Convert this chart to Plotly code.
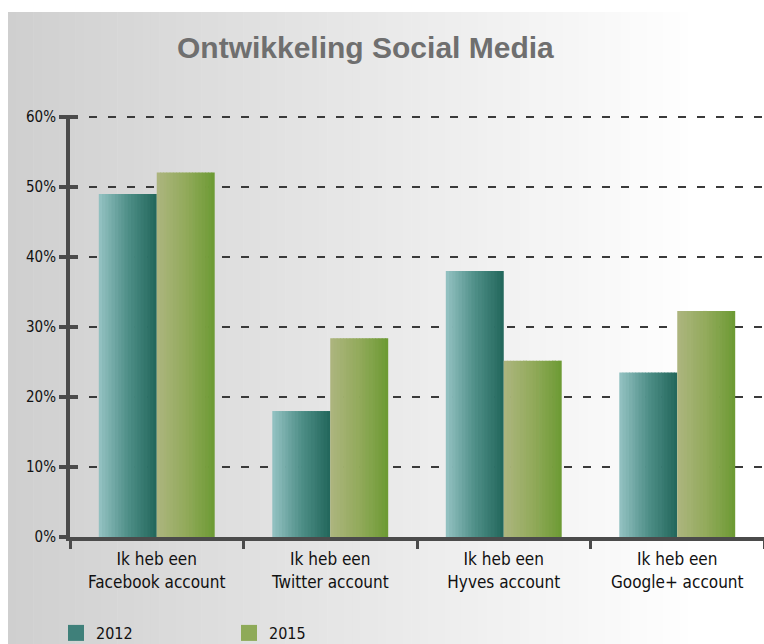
import plotly.graph_objects as go

# ---------------- data ----------------
categories = [
    "Ik heb een<br>Facebook account",
    "Ik heb een<br>Twitter account",
    "Ik heb een<br>Hyves account",
    "Ik heb een<br>Google+ account",
]
values_2012 = [49.0, 18.0, 38.0, 23.5]
values_2015 = [52.1, 28.4, 25.2, 32.3]
series_names = ["2012", "2015"]
y_ticks = [0, 10, 20, 30, 40, 50, 60]
y_tick_labels = ["0%", "10%", "20%", "30%", "40%", "50%", "60%"]
title_text = "Ontwikkeling Social Media"
page_heading = "Social Media"

# ---------------- geometry helpers ----------------
W, H = 764, 644
ML, MR, MT, MB = 70, 0, 115, 107
PW = W - ML - MR
PH = H - MT - MB
Y_MAX = 60.3


def px_x(px):
    return (px - ML) / PW


def px_y(py):
    return (H - MB - py) / PH


def hex2rgb(h):
    h = h.lstrip("#")
    return tuple(int(h[i:i + 2], 16) for i in (0, 2, 4))


def grad(stops, t):
    for (t0, c0), (t1, c1) in zip(stops[:-1], stops[1:]):
        if t0 <= t <= t1:
            f = (t - t0) / (t1 - t0) if t1 > t0 else 0
            a, b = hex2rgb(c0), hex2rgb(c1)
            return "rgb(%d,%d,%d)" % tuple(round(a[k] + (b[k] - a[k]) * f) for k in range(3))
    return stops[-1][1]


NARROW = "Liberation Sans Narrow, Arial Narrow, DejaVu Sans Condensed, sans-serif"
SANS = "Liberation Sans, Arial, sans-serif"

stops_2012 = [(0.0, "#95c3c3"), (0.5, "#4f8f88"), (1.0, "#21665a")]
stops_2015 = [(0.0, "#adb57f"), (0.5, "#92aa5b"), (1.0, "#6c9a33")]
legend_colors = ["#3f807a", "#8eaa58"]

fig = go.Figure()

# gradient bars built from thin overlaid strips
K = 18
BW = 0.334
for s, (vals, stops) in enumerate([(values_2012, stops_2012), (values_2015, stops_2015)]):
    for i in range(K):
        t = (i + 0.5) / K
        w = BW / K + (0.004 if i < K - 1 else 0)
        fig.add_trace(go.Bar(
            x=categories, y=vals,
            offset=-BW + s * BW + i * BW / K, width=w,
            marker=dict(color=grad(stops, t), line=dict(width=0)),
            showlegend=False, hoverinfo="skip",
        ))

# legend entries
for name, col in zip(series_names, legend_colors):
    fig.add_trace(go.Scatter(
        x=[None], y=[None], mode="markers", name=name,
        marker=dict(symbol="square", size=18, color=col),
    ))

# helper trace for the inner tick marks on the y axis
fig.add_trace(go.Scatter(x=[None], y=[None], yaxis="y2", showlegend=False, hoverinfo="skip"))

# background panel gradient
shapes = []
N = 90
x0p, x1p = 8, 764
for i in range(N):
    a = x0p + (x1p - x0p) * i / N
    b = x0p + (x1p - x0p) * (i + 1) / N + 0.6
    xc = (a + b) / 2
    f = min(1.0, (xc - 8) / 690)
    v = round(207 + (255 - 207) * f)
    shapes.append(dict(
        type="rect", xref="paper", yref="paper",
        x0=px_x(a), x1=px_x(b), y0=px_y(12), y1=px_y(H + 2),
        fillcolor="rgb(%d,%d,%d)" % (v, v, v), line=dict(width=0), layer="below",
    ))

AX = "#4b4b4b"

fig.update_layout(
    width=W, height=H,
    margin=dict(l=ML, r=MR, t=MT, b=MB, autoexpand=False),
    paper_bgcolor="white", plot_bgcolor="rgba(0,0,0,0)",
    barmode="overlay",
    shapes=shapes,
    showlegend=True,
    legend=dict(
        orientation="h", x=px_x(56), y=px_y(616), xanchor="left", yanchor="top",
        font=dict(family=NARROW, size=16, color="#111111"),
        bgcolor="rgba(0,0,0,0)", entrywidth=128, entrywidthmode="pixels",
        itemclick=False, itemdoubleclick=False,
    ),
    xaxis=dict(
        type="category", range=[-0.5, 3.5], showline=True, linecolor=AX, linewidth=4,
        ticks="outside", tickson="boundaries", ticklen=8, tickwidth=3, tickcolor=AX,
        tickfont=dict(family=NARROW, size=17, color="#111111"), ticklabelstandoff=4,
        showgrid=False, zeroline=False, fixedrange=True,
    ),
    yaxis=dict(
        range=[0, Y_MAX], tickvals=y_ticks, ticktext=y_tick_labels,
        showline=True, linecolor=AX, linewidth=4,
        ticks="outside", ticklen=7, tickwidth=3.5, tickcolor=AX,
        tickfont=dict(family=NARROW, size=15, color="#111111"),
        showgrid=True, gridcolor="#3a3a3a", gridwidth=2, griddash="8px,11px",
        zeroline=False, fixedrange=True,
    ),
    yaxis2=dict(
        overlaying="y", anchor="x", side="left", range=[0, Y_MAX], tickvals=y_ticks,
        ticks="inside", ticklen=8, tickwidth=3.5, tickcolor=AX,
        showticklabels=False, showgrid=False, showline=False, zeroline=False, fixedrange=True,
    ),
    annotations=[
        dict(text=title_text, xref="paper", yref="paper", x=px_x(365), y=px_y(48),
             xanchor="center", yanchor="middle", showarrow=False,
             font=dict(family=SANS, size=30, color="#6f6f6f", weight="bold")),
        dict(text=page_heading, xref="paper", yref="paper", x=px_x(27), y=px_y(7.5),
             xanchor="left", yanchor="bottom", showarrow=False,
             font=dict(family=SANS, size=26, color="#111111", weight="bold")),
    ],
)

fig.write_html("out.html")
